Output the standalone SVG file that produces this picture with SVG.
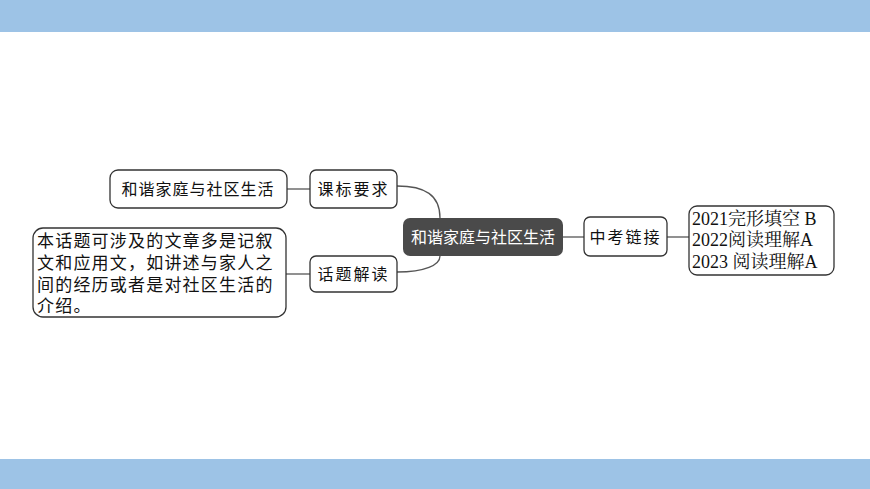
<svg xmlns="http://www.w3.org/2000/svg" width="870" height="489" viewBox="0 0 870 489">
<style>
.b{fill:#fff;stroke:#333;stroke-width:1.3}
.t{font-family:"Noto Sans CJK SC",sans-serif;font-size:16px;fill:#111}
.p{font-family:"Noto Sans CJK SC",sans-serif;font-size:17px;fill:#111}
.s{font-family:"Liberation Serif","Noto Serif CJK SC","Noto Sans CJK SC",serif;font-size:18px;fill:#111}
.c{fill:none;stroke:#555;stroke-width:1.3}
</style>
<rect width="870" height="489" fill="#fff"/>
<rect x="0" y="0" width="870" height="32" fill="#9dc3e6"/>
<rect x="0" y="459" width="870" height="30" fill="#9dc3e6"/>
<g id="connectors">
<path class="c" d="M397,186 C425,186 440,195 440,218"/>
<path class="c" d="M397,272 C425,272 440,265 440,256"/>
<path class="c" d="M287,189 H310"/>
<path class="c" d="M286,274 H310"/>
<path class="c" d="M563,237 H584"/>
<path class="c" d="M667,237 H689"/>
</g>
<g id="center"><rect x="403" y="218" width="160" height="38" rx="7" fill="#4a4a4a"/><text x="483" y="243" text-anchor="middle" class="t" style="fill:#fff">和谐家庭与社区生活</text></g>
<g id="kbyq"><rect class="b" x="310" y="170" width="87" height="38" rx="6"/><text x="353.5" y="195" text-anchor="middle" class="t" letter-spacing="2">课标要求</text></g>
<g id="htjd"><rect class="b" x="310" y="256" width="87" height="36" rx="6"/><text x="353.5" y="280" text-anchor="middle" class="t" letter-spacing="2">话题解读</text></g>
<g id="l1"><rect class="b" x="110" y="170" width="177" height="38" rx="8"/><text x="198" y="195" text-anchor="middle" class="t" letter-spacing="1">和谐家庭与社区生活</text></g>
<g id="l2"><rect class="b" x="33" y="228" width="253" height="89" rx="10"/>
<text class="p" x="37" y="247" letter-spacing="1.2">本话题可涉及的文章多是记叙</text>
<text class="p" x="37" y="269" letter-spacing="1.2">文和应用文，如讲述与家人之</text>
<text class="p" x="37" y="291" letter-spacing="1.2">间的经历或者是对社区生活的</text>
<text class="p" x="37" y="312" letter-spacing="1.2">介绍。</text></g>
<g id="zklj"><rect class="b" x="584" y="217" width="83" height="39" rx="6"/><text x="625.5" y="243" text-anchor="middle" class="t" letter-spacing="2">中考链接</text></g>
<g id="r"><rect class="b" x="689" y="206" width="145" height="69" rx="8"/>
<text class="s" x="692" y="225">2021完形填空 B</text>
<text class="s" x="692" y="246">2022阅读理解A</text>
<text class="s" x="692" y="268">2023 阅读理解A</text></g>
</svg>
